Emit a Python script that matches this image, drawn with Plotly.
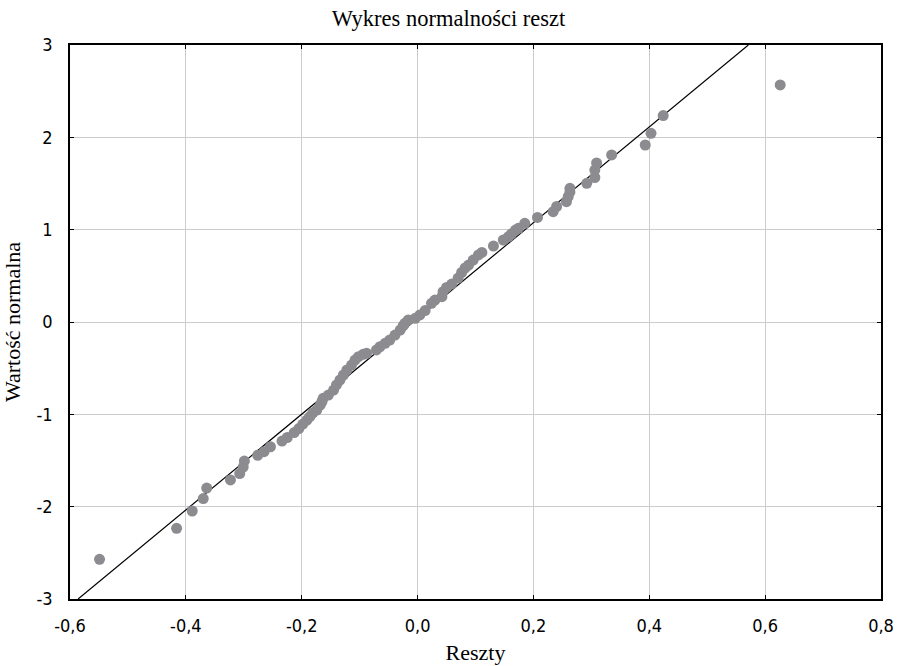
import plotly.graph_objects as go

# Residuals (Reszty) and normal quantiles (Wartość normalna)
reszty = [-0.549, -0.416, -0.389, -0.370, -0.364, -0.323, -0.307, -0.301, -0.299, -0.276,
          -0.265, -0.254, -0.234, -0.225, -0.213, -0.205, -0.198, -0.191, -0.186, -0.181,
          -0.174, -0.168, -0.165, -0.163, -0.154, -0.145, -0.140, -0.134, -0.128, -0.122,
          -0.114, -0.108, -0.102, -0.094, -0.088, -0.071, -0.065, -0.056, -0.048, -0.039,
          -0.030, -0.025, -0.022, -0.016, -0.004, 0.004, 0.013, 0.024, 0.030, 0.042,
          0.044, 0.050, 0.059, 0.070, 0.076, 0.082, 0.088, 0.096, 0.105, 0.111,
          0.131, 0.148, 0.157, 0.162, 0.169, 0.174, 0.185, 0.207, 0.234, 0.240,
          0.257, 0.260, 0.263, 0.263, 0.292, 0.306, 0.306, 0.309, 0.335, 0.393,
          0.403, 0.424, 0.626]
wartosc = [-2.570, -2.235, -2.047, -1.912, -1.798, -1.711, -1.641, -1.571, -1.506, -1.444,
           -1.405, -1.351, -1.289, -1.251, -1.197, -1.154, -1.105, -1.062, -1.026, -0.986,
           -0.953, -0.899, -0.861, -0.826, -0.791, -0.737, -0.682, -0.628, -0.574, -0.520,
           -0.466, -0.412, -0.376, -0.350, -0.339, -0.303, -0.268, -0.231, -0.195, -0.141,
           -0.087, -0.043, -0.014, 0.022, 0.040, 0.076, 0.124, 0.202, 0.238, 0.274,
           0.328, 0.374, 0.411, 0.476, 0.536, 0.585, 0.617, 0.671, 0.726, 0.753,
           0.823, 0.888, 0.924, 0.953, 0.996, 1.015, 1.069, 1.132, 1.195, 1.251,
           1.303, 1.357, 1.408, 1.448, 1.502, 1.565, 1.646, 1.722, 1.809, 1.917,
           2.044, 2.236, 2.567]

# Reference line endpoints
line_x = [-0.586, 0.571]
line_y = [-3.0, 3.0]

x_tickvals = [-0.6, -0.4, -0.2, 0.0, 0.2, 0.4, 0.6, 0.8]
x_ticktext = ["-0,6", "-0,4", "-0,2", "0,0", "0,2", "0,4", "0,6", "0,8"]
y_tickvals = [-3, -2, -1, 0, 1, 2, 3]
y_ticktext = ["-3", "-2", "-1", "0", "1", "2", "3"]

tick_font = dict(family="Liberation Sans Narrow, DejaVu Sans Condensed, Liberation Sans, Arial, sans-serif",
                 size=18, color="black")
serif = "Liberation Serif, Times New Roman, serif"

fig = go.Figure()
fig.add_trace(go.Scatter(x=line_x, y=line_y, mode="lines",
                         line=dict(color="black", width=1.2), hoverinfo="skip",
                         showlegend=False))
fig.add_trace(go.Scatter(x=reszty, y=wartosc, mode="markers",
                         marker=dict(color="#8c8c90", size=11, line=dict(width=0)),
                         showlegend=False))

fig.update_layout(
    width=897, height=666,
    margin=dict(l=70, r=16, t=45, b=67),
    paper_bgcolor="white", plot_bgcolor="white",
    title=dict(text="Wykres normalności reszt", x=0.5, xref="container", xanchor="center",
               y=0.973, yref="container", yanchor="middle",
               font=dict(family=serif, size=22.5, color="black")),
)
fig.update_xaxes(
    range=[-0.6, 0.8], tickvals=x_tickvals, ticktext=x_ticktext,
    showgrid=True, gridcolor="#cccccc", gridwidth=1, zeroline=False,
    showline=True, linecolor="black", linewidth=1.5, mirror="ticks",
    ticks="inside", ticklen=4, tickcolor="black",
    tickfont=tick_font, ticklabelstandoff=10, automargin=False,
    title=dict(text="Reszty", font=dict(family=serif, size=22, color="black"), standoff=9),
)
fig.update_yaxes(
    range=[-3, 3], tickvals=y_tickvals, ticktext=y_ticktext,
    showgrid=True, gridcolor="#cccccc", gridwidth=1, zeroline=False,
    showline=True, linecolor="black", linewidth=1.5, mirror="ticks",
    ticks="inside", ticklen=4, tickcolor="black",
    tickfont=tick_font, ticklabelstandoff=12, automargin=False,
    title=dict(text="Wartość normalna", font=dict(family=serif, size=22, color="black"), standoff=10),
)

fig.write_html("out.html",
               config={"displayModeBar": False},
               post_script="document.body.style.margin='0';document.body.style.overflow='hidden';")
